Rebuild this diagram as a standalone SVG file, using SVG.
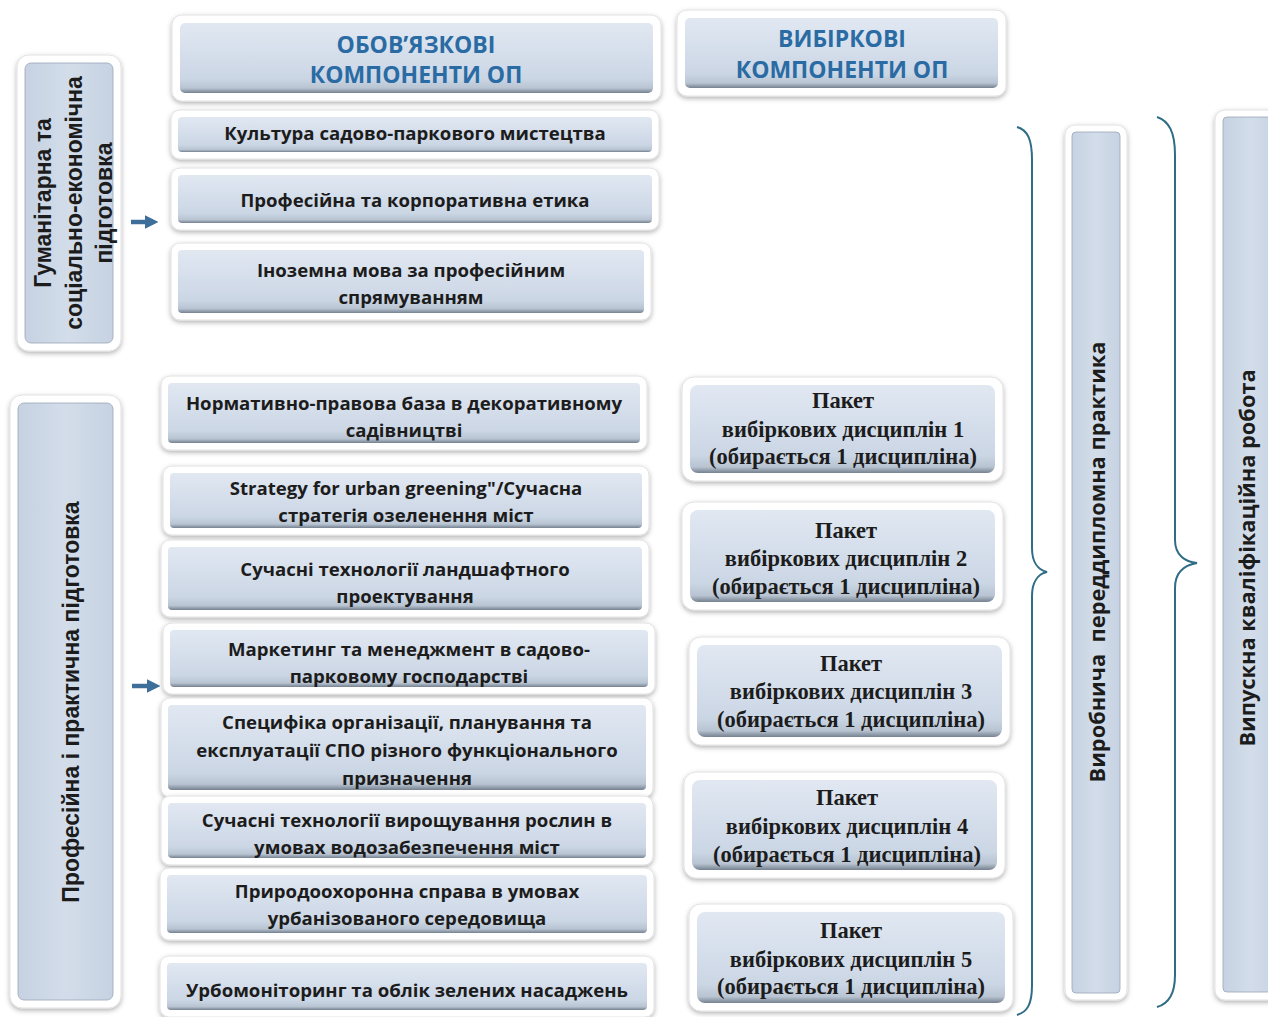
<svg xmlns="http://www.w3.org/2000/svg" width="1268" height="1017" viewBox="0 0 1268 1017">
<defs>
<linearGradient id="g" x1="0" y1="0" x2="0" y2="1">
<stop offset="0" stop-color="#e1e8f2"/>
<stop offset="0.8" stop-color="#cbd6e5"/>
<stop offset="0.93" stop-color="#b9c4d3"/>
<stop offset="1" stop-color="#76818f"/>
</linearGradient>
<linearGradient id="gv" x1="0" y1="0" x2="1" y2="0">
<stop offset="0" stop-color="#c6d2e2"/>
<stop offset="0.5" stop-color="#d3ddea"/>
<stop offset="1" stop-color="#c6d2e2"/>
</linearGradient>
<filter id="sh" x="-10%" y="-10%" width="120%" height="130%">
<feDropShadow dx="0" dy="2" stdDeviation="2.5" flood-color="#000" flood-opacity="0.3"/>
</filter>
<marker id="ah" viewBox="0 0 10 10" refX="6" refY="5" markerWidth="3" markerHeight="3" orient="auto">
<path d="M0,0 L10,5 L0,10 z" fill="#3d6f9a"/>
</marker>
<style>
.fr{fill:#fff;stroke:#e2e2e2;stroke-width:1;filter:url(#sh)}
.in{fill:url(#g)}
.iv{fill:url(#gv);stroke:#9aa6b6;stroke-width:0.8}
.t{font-family:"Open Sans","Liberation Sans",sans-serif;font-weight:bold;font-size:18.6px;fill:#1c1c1c;text-anchor:middle}
.h{font-family:"Open Sans","Liberation Sans",sans-serif;font-weight:bold;font-size:23px;fill:#2a6ba3;text-anchor:middle}
.p{font-family:"Liberation Serif",serif;font-weight:bold;font-size:22.5px;fill:#1c1c1c;text-anchor:middle}
.v{font-family:"Liberation Sans",sans-serif;font-weight:bold;font-size:23px;fill:#1c1c1c;text-anchor:middle}
.vb{font-family:"Open Sans","Liberation Sans",sans-serif;font-weight:bold;font-size:21.8px;fill:#1c1c1c;text-anchor:middle}
.br{fill:none;stroke:#2f6c86;stroke-width:2}
.ar{stroke:#3d6f9a;stroke-width:4.5;fill:none}
</style>
</defs>
<rect width="1268" height="1017" fill="#fff"/>

<g id="connectors">
<line class="ar" x1="131" y1="222" x2="153" y2="222" marker-end="url(#ah)"/>
<line class="ar" x1="132" y1="686" x2="155" y2="686" marker-end="url(#ah)"/>
<path class="br" d="M1017,127 C1028,130 1032,140 1032,160 L1032,548 C1032,562 1038,570 1047,572 C1038,574 1032,582 1032,596 L1032,985 C1032,1005 1027,1012 1017,1015"/>
<path class="br" d="M1157,117 C1169,121 1175,132 1175,155 L1175,540 C1175,555 1185,562 1197,563 C1185,565 1175,572 1175,588 L1175,975 C1175,995 1168,1004 1157,1007"/>
</g>

<g id="h1">
<rect class="fr" x="172" y="15" width="489" height="86" rx="10"/>
<rect class="in" x="180" y="23" width="473" height="70" rx="5"/>
<text class="h" x="416" y="53">ОБОВ’ЯЗКОВІ</text>
<text class="h" x="416" y="83">КОМПОНЕНТИ ОП</text>
</g>
<g id="h2">
<rect class="fr" x="677" y="10" width="329" height="86" rx="10"/>
<rect class="in" x="685" y="18" width="313" height="70" rx="5"/>
<text class="h" x="842" y="47">ВИБІРКОВІ</text>
<text class="h" x="842" y="78">КОМПОНЕНТИ ОП</text>
</g>

<g id="grp1">
<rect class="fr" x="17" y="55" width="104" height="296" rx="12"/>
<rect class="iv" x="25" y="63" width="88" height="280" rx="6"/>
<text class="v" transform="translate(51,203) rotate(-90)">Гуманітарна та</text>
<text class="v" transform="translate(82,203) rotate(-90)">соціально-економічна</text>
<text class="v" transform="translate(112,203) rotate(-90)">підготовка</text>
</g>
<g id="grp2">
<rect class="fr" x="10" y="395" width="111" height="613" rx="12"/>
<rect class="iv" x="18" y="403" width="95" height="597" rx="6"/>
<text class="v" transform="translate(79,702) rotate(-90)">Професійна і практична підготовка</text>
</g>

<g id="m1">
<rect class="fr" x="171" y="110" width="488" height="49" rx="9"/>
<rect class="in" x="178" y="117" width="474" height="35" rx="4"/>
<text class="t" x="415" y="140">Культура садово-паркового мистецтва</text>
</g>
<g id="m2">
<rect class="fr" x="171" y="168" width="488" height="62" rx="9"/>
<rect class="in" x="178" y="175" width="474" height="48" rx="4"/>
<text class="t" x="415" y="207">Професійна та корпоративна етика</text>
</g>
<g id="m3">
<rect class="fr" x="171" y="243" width="480" height="77" rx="9"/>
<rect class="in" x="178" y="250" width="466" height="63" rx="4"/>
<text class="t" x="411" y="277">Іноземна мова за професійним</text>
<text class="t" x="411" y="304">спрямуванням</text>
</g>
<g id="m4">
<rect class="fr" x="161" y="376" width="486" height="74" rx="9"/>
<rect class="in" x="168" y="383" width="472" height="60" rx="4"/>
<text class="t" x="404" y="410">Нормативно-правова база в декоративному</text>
<text class="t" x="404" y="437">садівництві</text>
</g>
<g id="m5">
<rect class="fr" x="163" y="466" width="486" height="69" rx="9"/>
<rect class="in" x="170" y="473" width="472" height="55" rx="4"/>
<text class="t" x="406" y="495">Strategy for urban greening"/Сучасна</text>
<text class="t" x="406" y="522">стратегія озеленення міст</text>
</g>
<g id="m6">
<rect class="fr" x="161" y="540" width="488" height="77" rx="9"/>
<rect class="in" x="168" y="547" width="474" height="63" rx="4"/>
<text class="t" x="405" y="576">Сучасні технології ландшафтного</text>
<text class="t" x="405" y="603">проектування</text>
</g>
<g id="m7">
<rect class="fr" x="163" y="623" width="492" height="71" rx="9"/>
<rect class="in" x="170" y="630" width="478" height="57" rx="4"/>
<text class="t" x="409" y="656">Маркетинг та менеджмент в садово-</text>
<text class="t" x="409" y="683">парковому господарстві</text>
</g>
<g id="m8">
<rect class="fr" x="161" y="698" width="492" height="99" rx="9"/>
<rect class="in" x="168" y="705" width="478" height="85" rx="4"/>
<text class="t" x="407" y="729">Специфіка організації, планування та</text>
<text class="t" x="407" y="757">експлуатації СПО різного функціонального</text>
<text class="t" x="407" y="785">призначення</text>
</g>
<g id="m9">
<rect class="fr" x="161" y="796" width="492" height="69" rx="9"/>
<rect class="in" x="168" y="803" width="478" height="55" rx="4"/>
<text class="t" x="407" y="827">Сучасні технології вирощування рослин в</text>
<text class="t" x="407" y="854">умовах водозабезпечення міст</text>
</g>
<g id="m10">
<rect class="fr" x="160" y="868" width="494" height="72" rx="9"/>
<rect class="in" x="167" y="875" width="480" height="58" rx="4"/>
<text class="t" x="407" y="898">Природоохоронна справа в умовах</text>
<text class="t" x="407" y="925">урбанізованого середовища</text>
</g>
<g id="m11">
<rect class="fr" x="160" y="956" width="494" height="61" rx="9"/>
<rect class="in" x="167" y="963" width="480" height="47" rx="4"/>
<text class="t" x="407" y="997">Урбомоніторинг та облік зелених насаджень</text>
</g>

<g id="p1">
<rect class="fr" x="682" y="377" width="321" height="104" rx="12"/>
<rect class="in" x="690" y="385" width="305" height="88" rx="8"/>
<text class="p" x="843" y="408">Пакет</text>
<text class="p" x="843" y="437">вибіркових дисциплін 1</text>
<text class="p" x="843" y="464">(обирається 1 дисципліна)</text>
</g>
<g id="p2">
<rect class="fr" x="682" y="502" width="321" height="108" rx="12"/>
<rect class="in" x="690" y="510" width="305" height="92" rx="8"/>
<text class="p" x="846" y="538">Пакет</text>
<text class="p" x="846" y="566">вибіркових дисциплін 2</text>
<text class="p" x="846" y="594">(обирається 1 дисципліна)</text>
</g>
<g id="p3">
<rect class="fr" x="689" y="637" width="321" height="108" rx="12"/>
<rect class="in" x="697" y="645" width="305" height="92" rx="8"/>
<text class="p" x="851" y="671">Пакет</text>
<text class="p" x="851" y="699">вибіркових дисциплін 3</text>
<text class="p" x="851" y="727">(обирається 1 дисципліна)</text>
</g>
<g id="p4">
<rect class="fr" x="684" y="772" width="321" height="106" rx="12"/>
<rect class="in" x="692" y="780" width="305" height="90" rx="8"/>
<text class="p" x="847" y="805">Пакет</text>
<text class="p" x="847" y="834">вибіркових дисциплін 4</text>
<text class="p" x="847" y="862">(обирається 1 дисципліна)</text>
</g>
<g id="p5">
<rect class="fr" x="689" y="904" width="324" height="107" rx="12"/>
<rect class="in" x="697" y="912" width="308" height="91" rx="8"/>
<text class="p" x="851" y="938">Пакет</text>
<text class="p" x="851" y="967">вибіркових дисциплін 5</text>
<text class="p" x="851" y="994">(обирається 1 дисципліна)</text>
</g>

<g id="practice">
<rect class="fr" x="1065" y="125" width="62" height="875" rx="10"/>
<rect class="iv" x="1072" y="132" width="48" height="861" rx="4"/>
<text class="vb" transform="translate(1105,562) rotate(-90)" xml:space="preserve">Виробнича  переддипломна практика</text>
</g>
<g id="thesis">
<rect class="fr" x="1215" y="110" width="70" height="890" rx="10"/>
<rect class="iv" x="1223" y="117" width="55" height="875" rx="4"/>
<text class="vb" transform="translate(1255,558) rotate(-90)">Випускна кваліфікаційна робота</text>
</g>
</svg>
